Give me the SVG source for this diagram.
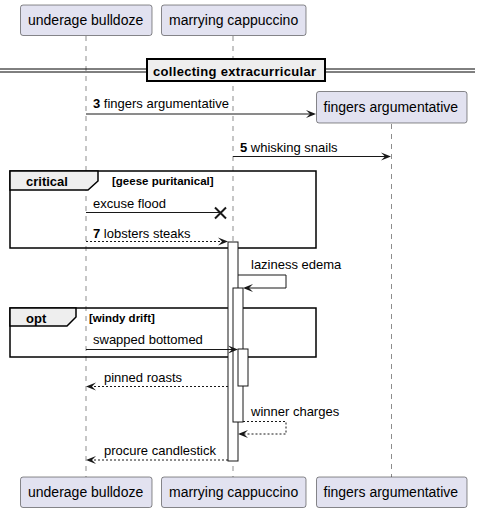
<svg xmlns="http://www.w3.org/2000/svg" width="478" height="513" viewBox="0 0 478 513">
<style>
.p{fill:#E2E2F0;stroke:#181818;stroke-width:0.5}
.pt{font-family:"Liberation Sans",Arial,sans-serif;font-size:14px;fill:#000}
.mt{font-family:"Liberation Sans",Arial,sans-serif;font-size:13px;fill:#000}
.b{font-weight:bold}
.ll{stroke:#181818;stroke-width:0.5;stroke-dasharray:5,5;fill:none}
.m{stroke:#181818;stroke-width:1;fill:none}
.d{stroke:#181818;stroke-width:1;fill:none;stroke-dasharray:2,2}
.ah{fill:#181818}
.act{fill:#FFFFFF;stroke:#181818;stroke-width:1}
.fr{fill:none;stroke:#000;stroke-width:1.5}
.tab{fill:#EEEEEE;stroke:#000;stroke-width:1.5}
</style>
<g id="lifelines">
<line class="ll" x1="86" y1="36" x2="86" y2="477"/>
<line class="ll" x1="233" y1="36" x2="233" y2="477"/>
<line class="ll" x1="391.5" y1="124" x2="391.5" y2="477"/>
</g>
<g id="divider">
<line x1="0" y1="69" x2="475" y2="69" stroke="#000" stroke-width="1"/>
<line x1="0" y1="72" x2="475" y2="72" stroke="#000" stroke-width="1"/>
<rect x="147" y="59" width="178" height="22" fill="#EEEEEE" stroke="#000" stroke-width="2"/>
<text class="mt b" x="153" y="75.5" textLength="163" lengthAdjust="spacing">collecting extracurricular</text>
</g>
<g id="frame-critical">
<rect class="fr" x="10" y="171" width="306" height="77"/>
<path class="tab" d="M10,171 L98,171 L98,181 L88,190 L10,190 Z"/>
<text class="mt b" x="26" y="186">critical</text>
<text class="mt b" x="112" y="185" style="font-size:11.5px">[geese puritanical]</text>
</g>
<g id="frame-opt">
<rect class="fr" x="10" y="308" width="306" height="49"/>
<path class="tab" d="M10,308 L76,308 L76,317 L67,326 L10,326 Z"/>
<text class="mt b" x="26" y="322.5">opt</text>
<text class="mt b" x="89" y="322" style="font-size:11.5px">[windy drift]</text>
</g>
<g id="activations">
<rect class="act" x="228" y="242" width="10" height="219"/>
<rect class="act" x="233" y="288" width="10" height="134"/>
<rect class="act" x="238" y="349" width="10" height="37"/>
</g>
<g id="connectors">
<line class="m" x1="86" y1="114" x2="314" y2="114"/>
<polygon class="ah" points="316,114 306,110 310,114 306,118"/>
<text class="mt" x="93" y="108"><tspan class="b">3</tspan> fingers argumentative</text>

<line class="m" x1="233" y1="156.5" x2="389" y2="156.5"/>
<polygon class="ah" points="391,156.5 381,152.5 385,156.5 381,160.5"/>
<text class="mt" x="240" y="152"><tspan class="b">5</tspan> whisking snails</text>

<line class="m" x1="86" y1="212.5" x2="221" y2="212.5"/>
<path d="M215,207.5 L226,218.5 M226,207.5 L215,218.5" stroke="#181818" stroke-width="2" fill="none"/>
<text class="mt" x="93" y="208">excuse flood</text>

<line class="d" x1="86" y1="241.5" x2="226" y2="241.5"/>
<polygon class="ah" points="228,241.5 218,237.5 222,241.5 218,245.5"/>
<text class="mt" x="93" y="237.5"><tspan class="b">7</tspan> lobsters steaks</text>

<polyline class="m" points="238,275 286,275 286,288 245,288"/>
<polygon class="ah" points="243,288 253,284 249,288 253,292"/>
<text class="mt" x="251" y="268.5">laziness edema</text>

<line class="m" x1="86" y1="349.5" x2="236" y2="349.5"/>
<polygon class="ah" points="238,349.5 228,345.5 232,349.5 228,353.5"/>
<text class="mt" x="93" y="343.5">swapped bottomed</text>

<line class="d" x1="228" y1="386.5" x2="88" y2="386.5"/>
<polygon class="ah" points="86,386.5 96,382.5 92,386.5 96,390.5"/>
<text class="mt" x="104" y="382">pinned roasts</text>

<polyline class="d" points="243,421.5 286,421.5 286,434 240,434"/>
<polygon class="ah" points="238,434 248,430 244,434 248,438"/>
<text class="mt" x="251" y="415.5">winner charges</text>

<line class="d" x1="228" y1="460" x2="88" y2="460"/>
<polygon class="ah" points="86,460 96,456 92,460 96,464"/>
<text class="mt" x="104" y="455">procure candlestick</text>
</g>
<g id="p-underage-top"><rect class="p" x="20.5" y="5" width="131.5" height="30.5" rx="2.5"/><text class="pt" x="28" y="25">underage bulldoze</text></g>
<g id="p-marrying-top"><rect class="p" x="161.5" y="5" width="144.5" height="30.5" rx="2.5"/><text class="pt" x="169" y="25">marrying cappuccino</text></g>
<g id="p-fingers"><rect class="p" x="316.5" y="91.5" width="150.5" height="31.5" rx="2.5"/><text class="pt" x="323.5" y="112">fingers argumentative</text></g>
<g id="p-underage-bottom"><rect class="p" x="20.5" y="477" width="131.5" height="30.5" rx="2.5"/><text class="pt" x="28" y="497">underage bulldoze</text></g>
<g id="p-marrying-bottom"><rect class="p" x="161.5" y="477" width="144.5" height="30.5" rx="2.5"/><text class="pt" x="169" y="497">marrying cappuccino</text></g>
<g id="p-fingers-bottom"><rect class="p" x="316.5" y="477" width="150.5" height="30.5" rx="2.5"/><text class="pt" x="323.5" y="497">fingers argumentative</text></g>
</svg>
